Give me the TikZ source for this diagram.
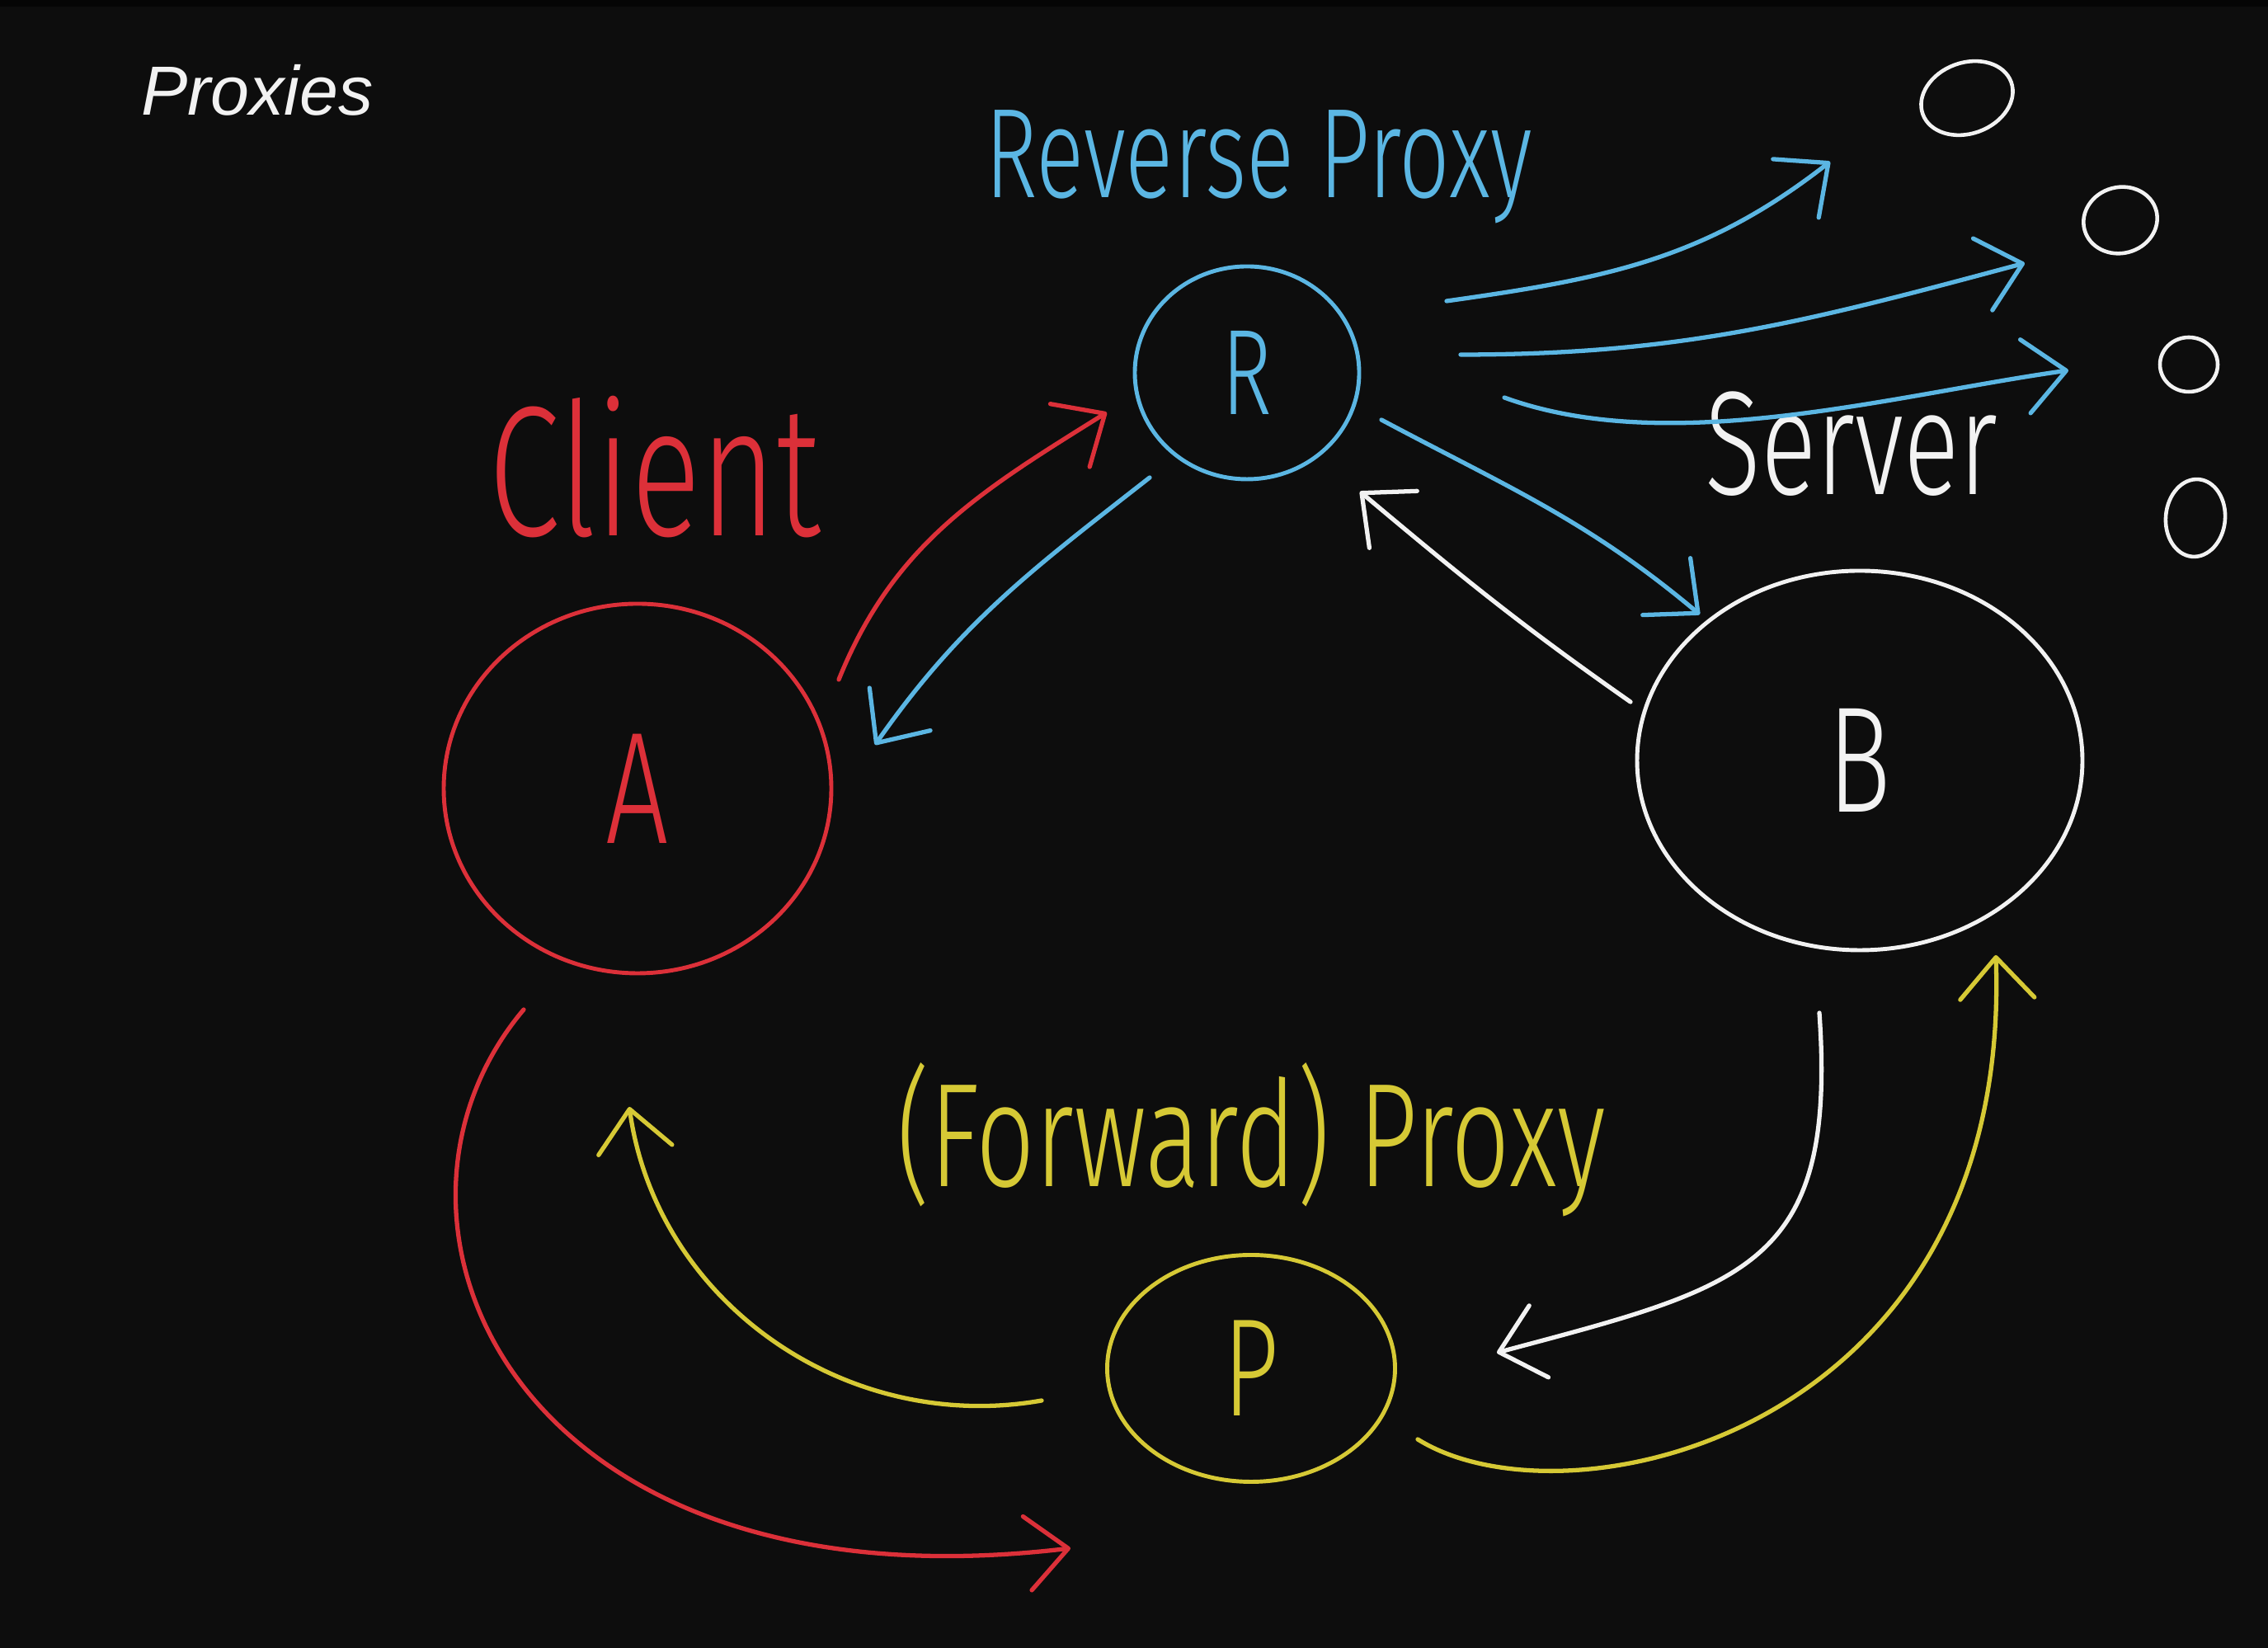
\documentclass[tikz,border=0pt]{standalone}
\usepackage{fontspec}
\setmainfont{Liberation Sans}
\newfontfamily\handfont[FakeStretch=0.7]{Fira Sans Light}
\usepackage{xcolor}
\usetikzlibrary{arrows.meta,shapes.geometric}

\definecolor{bgdark}{HTML}{0D0D0D}
\definecolor{bgtop}{HTML}{050505}
\definecolor{penred}{HTML}{DC3039}
\definecolor{penblue}{HTML}{5BB6E3}
\definecolor{penyellow}{HTML}{D6C935}
\definecolor{penwhite}{HTML}{F2F2F2}

\begin{document}
\begin{tikzpicture}[
  hand/.style={ellipse, draw, line width=1.4pt, inner sep=0pt},
  lbl/.style={inner sep=0pt},
  arr/.style={-{Straight Barb[length=5mm, width=9mm, round]}, line width=1.5pt, line cap=round},
  srv/.style={ellipse, draw=penwhite, line width=1.3pt, inner sep=0pt}
]
\fill[bgdark] (0,0) rectangle (27.5,19.98);
\fill[bgtop] (0,19.9) rectangle (27.5,19.98);
\useasboundingbox (0,0) rectangle (27.5,19.98);

\node[lbl, text=penwhite, font=\fontsize{24}{28}\selectfont\itshape] (title) at (3.12,18.89) {Proxies};

% the four machines
\node[hand, draw=penblue, text=penblue, minimum width=2.72cm, minimum height=2.58cm, font=\handfont\fontsize{42}{46}\selectfont] (R) at (15.12,15.46) {R};
\node[hand, draw=penred, text=penred, minimum width=4.7cm, minimum height=4.48cm, font=\handfont\fontsize{55}{60}\selectfont] (A) at (7.73,10.42) {A};
\node[hand, draw=penwhite, text=penwhite, minimum width=5.4cm, minimum height=4.6cm, font=\handfont\fontsize{52}{56}\selectfont] (B) at (22.55,10.76) {B};
\node[hand, draw=penyellow, text=penyellow, minimum width=3.49cm, minimum height=2.75cm, font=\handfont\fontsize{48}{52}\selectfont] (P) at (15.17,3.39) {P};

% labels
\node[lbl, text=penblue, font=\handfont\fontsize{44}{48}\selectfont] (revlbl) at (15.26,17.96) {Reverse Proxy};
\node[lbl, text=penred, font=\handfont\fontsize{64}{68}\selectfont] (clientlbl) at (7.94,14.32) {Client};
\node[lbl, text=penwhite, font=\handfont\fontsize{51}{55}\selectfont] (serverlbl) at (22.45,14.60) {Server};
\node[lbl, text=penyellow, font=\handfont\fontsize{51}{55}\selectfont] (fwdlbl) at (15.17,6.16) {(Forward) Proxy};

% backend servers
\foreach \cx/\cy/\w/\h/\rot [count=\i] in {23.85/18.79/1.14/0.86/20, 25.71/17.31/0.9/0.8/15, 26.54/15.56/0.7/0.66/0, 26.62/13.70/0.72/0.94/-5}
  \node[srv, minimum width=\w cm, minimum height=\h cm, rotate=\rot] (srv\i) at (\cx,\cy) {};

% arrow ends
\coordinate (ar-s) at (10.17,11.74); \coordinate (ar-e) at (13.42,14.98);
\coordinate (ra-s) at (13.94,14.19); \coordinate (ra-e) at (10.61,10.95);
\coordinate (rb-s) at (16.75,14.89); \coordinate (rb-e) at (20.61,12.53);
\coordinate (br-s) at (19.77,11.47); \coordinate (br-e) at (16.49,14.02);
\coordinate (f1-s) at (17.54,16.33); \coordinate (f1-e) at (22.19,18.02);
\coordinate (f2-s) at (17.71,15.68); \coordinate (f2-e) at (24.55,16.79);
\coordinate (f3-s) at (18.24,15.16); \coordinate (f3-e) at (25.08,15.49);
\coordinate (ap-s) at (6.35,7.74);   \coordinate (ap-e) at (12.98,1.21);
\coordinate (pa-s) at (12.63,3.00);  \coordinate (pa-e) at (7.63,6.56);
\coordinate (bp-s) at (22.06,7.70);  \coordinate (bp-e) at (18.15,3.58);
\coordinate (pb-s) at (17.19,2.53);  \coordinate (pb-e) at (24.20,8.40);

% reverse proxy side
\draw[arr, penred] (ar-s) to[out=68, in=-148] (ar-e);
\draw[arr, penblue] (ra-s) to[out=-142, in=55] (ra-e);
\draw[arr, penblue] (rb-s) to[out=-28, in=140] (rb-e);
\draw[arr, penwhite] (br-s) to[out=145, in=-40] (br-e);
\draw[arr, penblue] (f1-s) to[out=8, in=-142] (f1-e);
\draw[arr, penblue] (f2-s) to[out=0, in=-165] (f2-e);
\draw[arr, penblue] (f3-s) to[out=-20, in=-172, looseness=0.8] (f3-e);

% forward proxy side
\draw[arr, penred] (ap-s) .. controls (4.2,5.2) and (6.2,0.4) .. (ap-e);
\draw[arr, penyellow] (pa-s) to[out=190, in=-82] (pa-e);
\draw[arr, penwhite] (bp-s) to[out=-86, in=15, looseness=1.4] (bp-e);
\draw[arr, penyellow] (pb-s) .. controls (19.0,1.4) and (24.4,2.6) .. (pb-e);
\end{tikzpicture}
\end{document}
